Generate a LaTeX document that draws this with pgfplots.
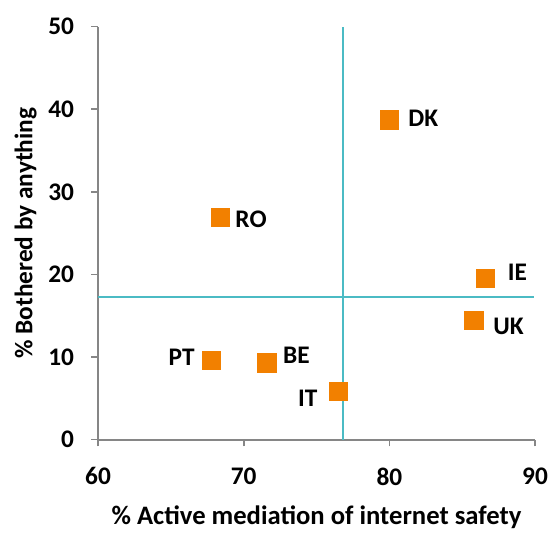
\documentclass[border=0pt]{standalone}
\usepackage{fontspec}
\setmainfont{Carlito}
\usepackage{pgfplots}
\usepackage{pgfplotstable}
\pgfplotsset{compat=1.18}
\definecolor{dotorange}{RGB}{242,128,0}
\definecolor{lineteal}{RGB}{75,187,196}
\definecolor{axgray}{RGB}{134,134,134}

\pgfplotstableread{
x     y     lab dx     dy
80.0  38.7  DK  25.5   1.5
68.4  26.9  RO  23.0  -1.5
86.6  19.5  IE  24.0   5.0
85.8  14.4  UK  26.0  -4.0
67.8   9.6  PT -22.5   2.5
71.6   9.3  BE  22.0   5.5
76.5   5.8  IT -23.0  -5.0
}\countries

\begin{document}
\begin{tikzpicture}
\begin{axis}[
    width=328pt, height=310pt,
    scale only axis,
    xmin=60, xmax=90, ymin=0, ymax=50,
    xtick={60,70,80,90}, ytick={0,10,20,30,40,50},
    axis x line*=bottom, axis y line*=left,
    axis line style={axgray, line width=1.5pt, -},
    tick style={axgray, line width=1.2pt},
    tick align=outside,
    major tick length=5pt,
    /pgf/number format/assume math mode=true,
    xticklabel={\bfseries\pgfmathprintnumber{\tick}},
    yticklabel={\bfseries\pgfmathprintnumber{\tick}},
    ticklabel style={font=\fontsize{19}{22}\selectfont\bfseries},
    yticklabel style={xshift=-9.5pt},
    xticklabel style={yshift=-12.5pt},
    xlabel={\fontsize{20}{23}\selectfont\bfseries \% Active mediation of internet safety},
    ylabel={\fontsize{19}{22}\selectfont\bfseries \% Bothered by anything},
    xlabel style={yshift=-8.5pt},
    ylabel style={yshift=2pt},
    clip=false,
]
\addplot[color=lineteal, line width=1.5pt] coordinates {(76.8,0) (76.8,50)};
\addplot[color=lineteal, line width=1.5pt] coordinates {(60,17.3) (89.9,17.3)};
\addplot[
    only marks, mark=square*, mark size=6.9pt,
    color=dotorange,
    mark options={fill=dotorange, draw=dotorange, line width=0pt},
    point meta=explicit symbolic,
    visualization depends on={\thisrow{dx} \as \dx},
    visualization depends on={\thisrow{dy} \as \dy},
    nodes near coords,
    nodes near coords style={anchor=center, xshift=\dx pt, yshift=\dy pt,
        font=\fontsize{19}{22}\selectfont\bfseries, text=black},
] table[x=x, y=y, meta=lab] {\countries};
\end{axis}
\path ([yshift=20pt]current axis.north west);
\path ([xshift=18pt]current axis.south east);
\path ([xshift=-73.6pt, yshift=-65pt]current axis.south west);
\end{tikzpicture}
\end{document}
